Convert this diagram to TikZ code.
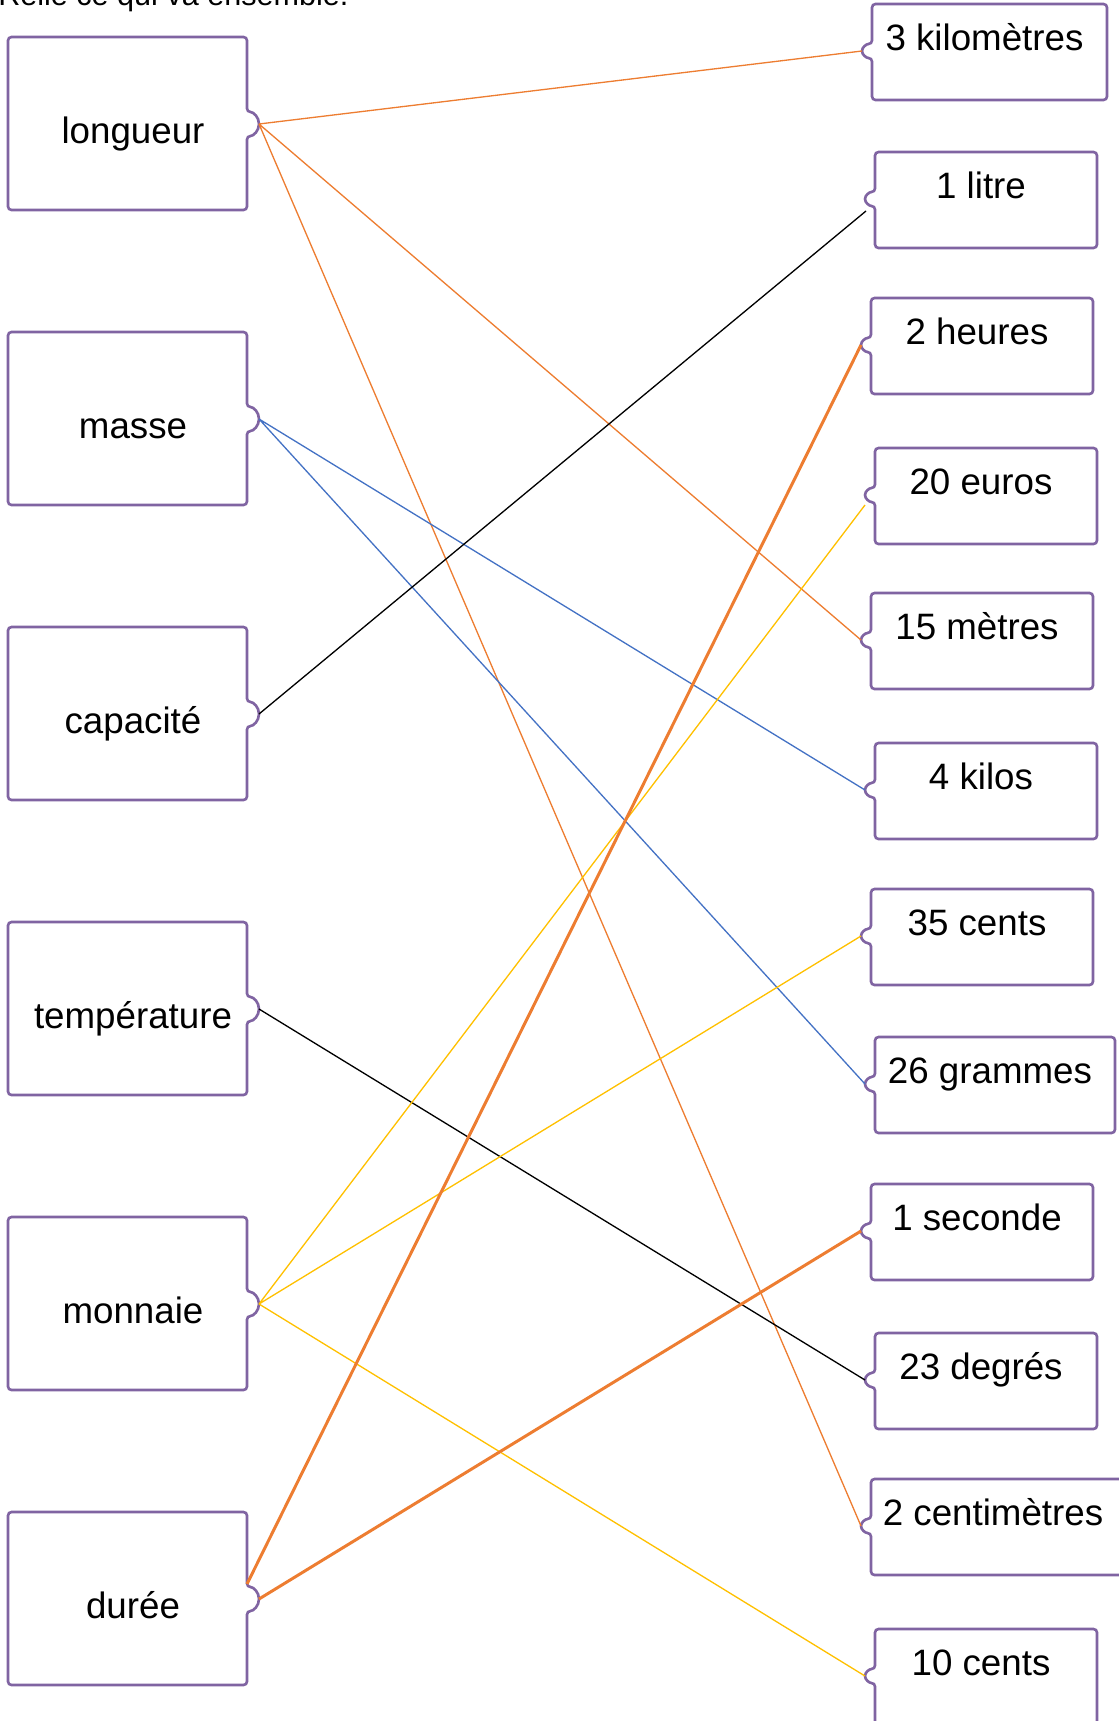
\documentclass[tikz,border=0pt]{standalone}
\usepackage{fontspec}
\setmainfont{Liberation Sans}
\usetikzlibrary{calc}

\definecolor{cardline}{HTML}{8064A2}
\definecolor{linkorange}{HTML}{ED7D31}
\definecolor{linkblue}{HTML}{4472C4}
\definecolor{linkyellow}{HTML}{FFC000}

\tikzset{
  card/.style={draw=cardline, line width=1.5pt, rounded corners=2pt},
  word/.style={font=\fontsize{20.9}{25}\selectfont, anchor=base, inner sep=0pt},
  link/.style={line width=0.75pt},
  boldlink/.style={line width=1.7pt},
}

\begin{document}
\begin{tikzpicture}[x=0.02cm, y=-0.02cm]  % one unit = one pixel of the sheet
    \useasboundingbox (0,0) rectangle (1119,1721);
    \clip (0,0) rectangle (1119,1721);

    % heading, cut off at the top
    \node[word, font=\fontsize{17.4}{20}\selectfont, anchor=base west] (head) at (-2,5) {Relie ce qui va ensemble.};

    % left cards with their tab on the right
    \foreach \nm/\tp/\txt in {lon/37/longueur, mas/332/masse, cap/627/capacité,
                              tem/922/température, mon/1217/monnaie, dur/1512/durée} {
        \draw[card] (8,\tp) -- (247,\tp) -- (247,\tp+75) arc (-90:90:12)
              -- (247,\tp+173) -- (8,\tp+173) -- cycle;
        \node[word] (\nm) at (133,\tp+106) {\txt};
        \coordinate (\nm-t) at (259,\tp+87);
    }

    % right cards with their tab on the left
    \foreach \nm/\lx/\rx/\tp/\txt in {km/872/1107/4/3 kilomètres, lit/875/1097/152/1 litre,
                                      heu/871/1093/298/2 heures, eur/875/1097/448/20 euros,
                                      met/871/1093/593/15 mètres, kil/875/1097/743/4 kilos,
                                      cts/871/1093/889/35 cents, gra/875/1115/1037/26 grammes,
                                      sec/871/1093/1184/1 seconde, deg/875/1097/1333/23 degrés,
                                      cm/871/1125/1479/2 centimètres, ten/875/1097/1629/10 cents} {
        \draw[card] (\lx,\tp) -- (\rx,\tp) -- (\rx,\tp+96) -- (\lx,\tp+96)
              -- (\lx,\tp+54) arc (90:270:10 and 7) -- cycle;
        \node[word] (\nm) at ({(\lx+\rx)/2-5},\tp+46) {\txt};
        \coordinate (\nm-t) at (\lx-10,\tp+47);
    }

    % links
    \draw[link, linkorange] (lon-t) -- (km-t) (lon-t) -- (met-t) (lon-t) -- (cm-t);
    \draw[link, linkblue] (mas-t) -- (kil-t) (mas-t) -- (gra-t);
    \draw[link] (cap-t) -- ($(lit-t)+(1,12)$);
    \draw[link] (tem-t) -- (deg-t);
    \draw[link, linkyellow] (mon-t) -- ($(eur-t)+(0,10)$) (mon-t) -- (cts-t) (mon-t) -- (ten-t);
    \draw[boldlink, linkorange] ($(dur-t)+(-12,-15)$) -- (heu-t) (dur-t) -- (sec-t);

\end{tikzpicture}
\end{document}
